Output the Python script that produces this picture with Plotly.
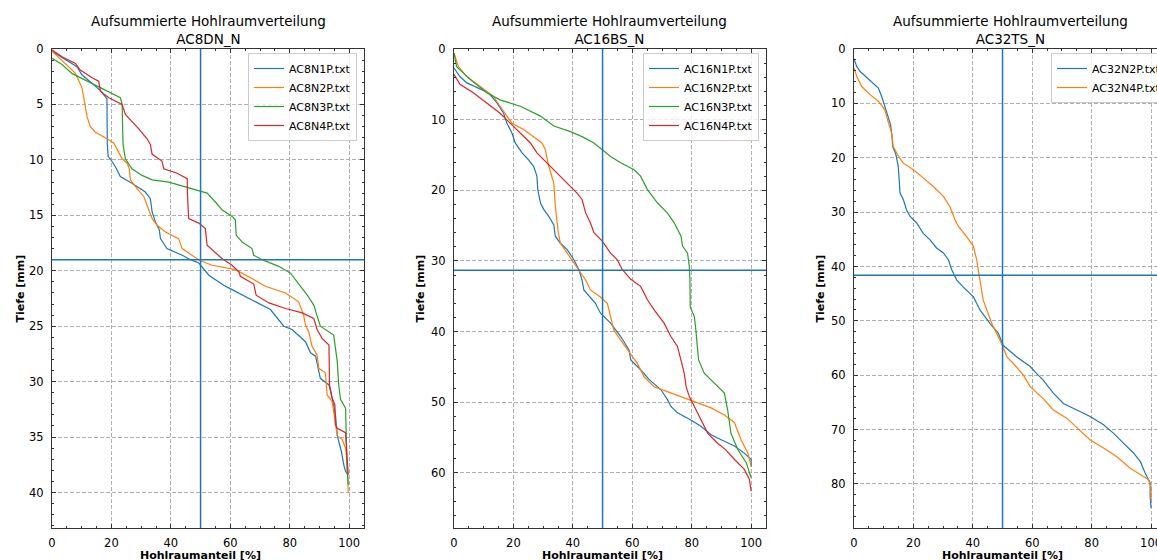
import plotly.graph_objects as go

W, H = 1157, 560
T, B = 49, 32

# ---------------- Panel 1: AC8DN_N ----------------
ac8n1p_x = [0, 4, 8.4, 10, 13, 16.5, 18.5, 18.6, 18.9, 19.6, 21.3, 23, 26.9, 31.4, 33.1, 33.7, 34.8, 36.1, 36.5, 38.7, 43.8, 46.6, 49.4, 51.1, 52.8, 55, 57.8, 60.6, 67.3, 73.5, 78, 80.8, 85.3, 87, 88.7, 89.8, 90.3, 93.2, 94.3, 95.4, 96, 96.5, 97.4, 98.2, 98.8, 99.7]
ac8n1p_y = [0.2, 0.9, 1.6, 2.3, 3.0, 3.8, 4.5, 8.5, 9.7, 9.9, 10.6, 11.5, 12.1, 12.9, 13.5, 14.7, 15.6, 16.3, 17.1, 18.0, 18.6, 19.0, 19.3, 19.8, 20.4, 20.8, 21.3, 21.7, 22.6, 23.5, 25.0, 25.3, 26.4, 27.4, 27.7, 29.1, 29.7, 30.3, 31.5, 33.0, 34.8, 35.4, 36.3, 37.5, 38.1, 38.4]

ac8n2p_x = [0, 4.5, 7.9, 10.1, 10.7, 11.2, 11.8, 12.9, 14.6, 18.5, 20.8, 22.4, 23.6, 25.3, 26, 26.4, 28.6, 30.9, 32.5, 33.7, 35.4, 38.2, 42.6, 43.8, 47.1, 49.9, 53.9, 61.7, 67.3, 71.8, 78.6, 83, 84.7, 85.3, 86.4, 87.5, 89.2, 89.8, 92, 92.6, 94.3, 94.8, 95.4, 96, 97.6, 98.8, 99.3, 99.7, 99.7]
ac8n2p_y = [0.2, 1.3, 2.2, 3.5, 4.4, 5.5, 6.1, 7.0, 7.5, 8.1, 8.5, 9.3, 9.9, 10.3, 10.8, 11.8, 12.6, 13.3, 14.4, 15.3, 15.9, 16.5, 17.1, 18.0, 18.6, 19.1, 19.5, 19.9, 20.7, 21.4, 22.0, 22.8, 24.0, 24.9, 25.5, 26.8, 27.6, 28.8, 29.2, 31.2, 31.8, 32.7, 33.6, 34.9, 35.2, 36.0, 37.2, 39.3, 40.0]

ac8n3p_x = [0, 3.4, 6.7, 11.2, 15.7, 20.2, 23, 23.6, 23.8, 23.9, 24.7, 26.9, 30.3, 33.7, 39.3, 44.3, 49.4, 52.2, 55, 57.2, 60.6, 61.7, 62, 64, 67.3, 67.9, 70.7, 76.3, 80.2, 82.5, 83.6, 85.9, 88.1, 89.2, 90.3, 94.8, 95.4, 96, 96.5, 97.1, 98.8, 99, 99.3, 99.7]
ac8n3p_y = [0.84, 1.4, 2.2, 2.8, 3.4, 4.0, 4.4, 5.0, 6.5, 8.6, 9.9, 10.8, 11.4, 11.8, 12.0, 12.4, 12.8, 13.0, 13.8, 14.5, 15.1, 15.4, 16.8, 17.4, 18.0, 18.6, 19.0, 19.6, 20.2, 21.0, 21.3, 22.2, 23.1, 24.0, 25.0, 25.8, 26.9, 28.2, 30.3, 31.6, 32.4, 34.8, 37.8, 39.3]

ac8n4p_x = [0, 3.4, 7.9, 9.5, 13.5, 15.7, 16.3, 19.1, 23.6, 24.7, 29.2, 32, 33.1, 33.7, 37, 37.6, 42.1, 45.5, 45.6, 46, 49.4, 51.6, 52.2, 55, 57.2, 60.6, 62.9, 63.4, 67.9, 68.7, 73, 78.6, 84.2, 88.1, 89.2, 90.9, 93.2, 93.4, 94.3, 95.2, 95.4, 96, 98.8, 99.3, 99.7]
ac8n4p_y = [0.09, 0.7, 1.3, 1.9, 2.6, 2.9, 3.8, 4.4, 5.0, 5.9, 7.2, 8.1, 8.6, 9.5, 10.1, 10.8, 11.2, 11.7, 13.2, 15.3, 15.7, 16.2, 17.7, 18.4, 18.9, 19.5, 20.1, 20.5, 21.2, 22.2, 22.9, 23.4, 23.8, 24.3, 25.3, 26.1, 26.7, 30.3, 31.5, 32.1, 33.9, 34.2, 34.6, 36.9, 38.4]

# ---------------- Panel 2: AC16BS_N ----------------
ac16n1p_x = [0, 2, 4.3, 8.2, 11.6, 14.4, 16.7, 17.8, 19.5, 20.6, 22.9, 25.1, 26.8, 27.9, 28.2, 29.1, 30.2, 31.9, 33.6, 34.1, 35.8, 38.1, 40.3, 42, 43.1, 43.7, 45.9, 47.6, 49.3, 52.7, 56.1, 58.9, 59.5, 62.8, 65.7, 69.6, 71.8, 73, 75.2, 79.7, 83.1, 86.5, 89.9, 94.4, 97.7, 100, 100]
ac16n1p_y = [2.7, 3.9, 4.8, 5.5, 6.2, 7.6, 9.1, 10.5, 11.9, 13.3, 14.7, 15.7, 16.6, 18.0, 19.9, 21.8, 22.7, 23.7, 24.9, 26.5, 27.5, 28.4, 29.8, 31.2, 32.7, 34.1, 35.1, 36.0, 37.4, 38.8, 40.7, 42.6, 44.0, 45.4, 46.8, 48.2, 49.6, 50.6, 51.5, 52.5, 53.4, 54.6, 55.3, 56.2, 57.2, 58.1, 59.1]

ac16n2p_x = [0, 1.5, 4.3, 8.8, 13.3, 15.5, 17.8, 19.5, 23.4, 26.8, 29.6, 30.7, 31.9, 33.6, 34.1, 35.1, 35.8, 38.1, 40.3, 42.6, 44.3, 45.9, 49.3, 51.6, 52.7, 53.8, 56.1, 59.5, 61.7, 64, 67.3, 71.8, 77.5, 82, 86.5, 91, 94.4, 96.6, 98.9, 100]
ac16n2p_y = [0.6, 2.5, 3.9, 5.3, 6.7, 8.1, 9.5, 10.5, 11.4, 12.4, 13.3, 14.2, 16.6, 19.0, 22.3, 26.0, 27.5, 28.9, 30.3, 31.7, 32.7, 34.1, 35.1, 36.0, 37.9, 39.8, 41.2, 43.1, 44.5, 46.4, 47.8, 48.5, 49.4, 50.1, 50.8, 51.8, 52.9, 55.3, 57.2, 59.1]

ac16n3p_x = [0, 0.9, 5.4, 11, 15.5, 22.3, 29.1, 33.6, 39.2, 43.1, 47.1, 49.9, 52.7, 56.1, 60.6, 62.8, 65.1, 68.5, 71.8, 74.1, 76.4, 76.9, 78.6, 79.2, 79.4, 79.5, 80.9, 81.4, 82.3, 84.2, 87.6, 91, 92.1, 93.2, 95.5, 98.4, 100]
ac16n3p_y = [0.6, 2.5, 4.3, 6.2, 7.2, 8.1, 9.5, 10.9, 11.7, 12.4, 13.3, 14.2, 15.2, 16.1, 17.1, 18.0, 19.9, 21.8, 23.2, 24.6, 26.5, 27.9, 28.9, 30.8, 32.7, 36.5, 37.9, 39.8, 44.0, 45.9, 47.3, 48.7, 51.1, 54.4, 56.7, 58.6, 60.7]

ac16n4p_x = [0, 2, 6.5, 11, 15.5, 18.9, 22.3, 25.7, 27.9, 31.3, 34.7, 38.1, 41.4, 43.1, 44.3, 45.9, 47.1, 49.9, 52.7, 54.9, 56.6, 59.5, 62.8, 65.1, 67.3, 70.7, 73, 75.2, 76.4, 77.5, 78.1, 79.2, 80.9, 83.1, 85.4, 88.7, 91.4, 94.4, 97.7, 99.4, 100]
ac16n4p_y = [3.6, 5.0, 6.2, 7.6, 9.1, 10.5, 11.9, 13.3, 14.7, 16.1, 17.5, 19.0, 20.4, 21.3, 23.2, 24.6, 26.0, 27.2, 28.9, 29.8, 31.2, 32.6, 33.6, 35.5, 36.9, 38.8, 40.7, 42.1, 44.0, 45.9, 47.8, 49.2, 50.6, 52.5, 54.4, 55.8, 56.7, 58.1, 59.5, 60.9, 62.6]

# ---------------- Panel 3: AC32TS_N ----------------
ac32n2p_x = [0, 0.9, 2, 4.3, 7, 8.2, 9.3, 10.4, 11.6, 12.3, 12.8, 13, 14.1, 14.9, 15.5, 16.6, 17.7, 18.9, 21.1, 23.3, 25.6, 27.8, 30.1, 31.8, 32.9, 34, 34.6, 36.8, 40.2, 42.4, 45.8, 48.6, 50.2, 54.7, 59.3, 61.5, 63.7, 67.1, 70.5, 75, 79.5, 84, 87.4, 90.7, 94.1, 96.4, 98, 99.7, 99.7, 100]
ac32n2p_y = [1.8, 3.2, 4.1, 5.3, 6.6, 7.2, 8.7, 10.6, 12.4, 13.9, 16.1, 17.9, 19.4, 21.6, 26.5, 27.7, 29.6, 30.8, 32.0, 33.9, 35.1, 36.6, 37.5, 38.8, 40.6, 41.8, 42.5, 43.8, 45.6, 48.0, 50.5, 52.3, 54.5, 56.6, 58.4, 59.7, 60.9, 63.3, 65.2, 66.4, 67.6, 69.1, 70.7, 72.5, 74.3, 75.9, 78.0, 79.8, 82.3, 84.4]

ac32n4p_x = [0, 0.9, 2.6, 5.4, 8.2, 10.4, 11.6, 12.7, 13.2, 14.6, 16.6, 20, 23.3, 26.7, 30.1, 32.3, 34, 35.1, 37.9, 40.2, 41.3, 41.9, 42.4, 43.5, 44.7, 46.4, 48, 50.2, 51.4, 53.6, 57, 59.3, 63.7, 67.1, 71.6, 76.1, 79.5, 84, 88.5, 93, 96.4, 99.1, 100, 100]
ac32n4p_y = [3.5, 5.0, 6.9, 8.4, 9.6, 11.2, 13.6, 15.5, 17.9, 19.4, 21.0, 22.2, 23.7, 25.3, 27.1, 29.0, 31.4, 32.6, 34.5, 36.3, 38.8, 41.2, 42.5, 46.2, 48.0, 50.5, 52.3, 54.8, 56.6, 57.8, 60.0, 62.1, 64.3, 66.4, 67.9, 70.1, 71.9, 73.4, 75.0, 77.1, 78.3, 79.2, 80.5, 82.9]

# reference lines (50 % and corresponding depth)
ref_percent = 50
ref_depths = [19.0, 31.3, 41.6]

titles = ["AC8DN_N", "AC16BS_N", "AC32TS_N"]
main_title = "Aufsummierte Hohlraumverteilung"
xlabel = "Hohlraumanteil [%]"
ylabel = "Tiefe [mm]"

panels = [
    [("AC8N1P.txt", ac8n1p_x, ac8n1p_y), ("AC8N2P.txt", ac8n2p_x, ac8n2p_y),
     ("AC8N3P.txt", ac8n3p_x, ac8n3p_y), ("AC8N4P.txt", ac8n4p_x, ac8n4p_y)],
    [("AC16N1P.txt", ac16n1p_x, ac16n1p_y), ("AC16N2P.txt", ac16n2p_x, ac16n2p_y),
     ("AC16N3P.txt", ac16n3p_x, ac16n3p_y), ("AC16N4P.txt", ac16n4p_x, ac16n4p_y)],
    [("AC32N2P.txt", ac32n2p_x, ac32n2p_y), ("AC32N4P.txt", ac32n4p_x, ac32n4p_y)],
]
colors = ["#1f77b4", "#ff7f0e", "#2ca02c", "#d62728"]

# layout geometry (window pixels; page margin is removed below)
dom_px = [(52, 364), (454, 766), (854, 1157)]
x_ranges = [[0, 105], [0, 105], [0, 102.0]]
y_ranges = [[43.2, 0], [67.8, 0], [88.1, 0]]
y_dticks = [5, 10, 10]
y_minor = [1, 2, 2]
ytitle_x = [20, 420, 820]
legend_pos = [(357, "right"), (759, "right"), (1051, "left")]
PH = H - T - B

FONT = "DejaVu Sans"
fig = go.Figure()
layout = dict(
    width=W, height=H,
    margin=dict(l=0, r=0, t=T, b=B, autoexpand=False),
    paper_bgcolor="white", plot_bgcolor="white",
    font=dict(family=FONT, size=11, color="#000000"),
    shapes=[], annotations=[],
)

for i, series in enumerate(panels):
    sfx = "" if i == 0 else str(i + 1)
    leg = "legend" if i == 0 else f"legend{i + 1}"
    for j, (name, xs, ys) in enumerate(series):
        fig.add_trace(go.Scatter(
            x=xs, y=ys, mode="lines", name=name,
            line=dict(color=colors[j], width=1.2),
            xaxis="x" + sfx, yaxis="y" + sfx, legend=leg,
        ))
    d0, d1 = dom_px[i]
    layout["xaxis" + sfx] = dict(
        domain=[d0 / W, d1 / W], anchor="y" + sfx, range=x_ranges[i],
        tick0=0, dtick=20, ticks="inside", ticklen=4, tickwidth=1, tickcolor="#333",
        minor=dict(dtick=5, ticks="inside", ticklen=2, tickcolor="#333", showgrid=False),
        showline=True, linecolor="#333", linewidth=1, mirror="allticks",
        showgrid=True, gridcolor="#b0b0b0", griddash="4px,2px", gridwidth=1,
        zeroline=False, tickfont=dict(size=11.5, family=FONT), ticklabelstandoff=4,
        ticklabeloverflow="allow",
    )
    layout["yaxis" + sfx] = dict(
        domain=[0, 1], anchor="x" + sfx, range=y_ranges[i],
        tick0=0, dtick=y_dticks[i], ticks="inside", ticklen=4, tickwidth=1, tickcolor="#333",
        minor=dict(dtick=y_minor[i], ticks="inside", ticklen=2, tickcolor="#333", showgrid=False),
        showline=True, linecolor="#333", linewidth=1, mirror="allticks" if i < 2 else False,
        showgrid=True, gridcolor="#b0b0b0", griddash="4px,2px", gridwidth=1,
        zeroline=False, tickfont=dict(size=11.5, family=FONT), ticklabelstandoff=5,
    )
    # reference lines
    layout["shapes"].append(dict(type="line", xref="x" + sfx, yref=f"y{sfx} domain",
                                 x0=ref_percent, x1=ref_percent, y0=0, y1=1,
                                 line=dict(color="#1f77b4", width=1.5)))
    layout["shapes"].append(dict(type="line", xref=f"x{sfx} domain", yref="y" + sfx,
                                 x0=0, x1=1, y0=ref_depths[i], y1=ref_depths[i],
                                 line=dict(color="#1f77b4", width=1.5)))
    # titles
    cx = (d0 + 156) / W
    layout["annotations"].append(dict(
        text=f"{main_title}<br>{titles[i]}", xref="paper", yref="paper",
        x=cx, y=1, xanchor="center", yanchor="bottom", yshift=0, showarrow=False,
        font=dict(size=13.5, family=FONT, color="#000")))
    layout["annotations"].append(dict(
        text=f"<b>{xlabel}</b>", xref="paper", yref="paper",
        x=(d0 + 148) / W, y=-(555 - (H - B)) / PH, xanchor="center", yanchor="middle",
        showarrow=False, font=dict(size=11, family=FONT, color="#000")))
    layout["annotations"].append(dict(
        text=f"<b>{ylabel}</b>", xref="paper", yref="paper", textangle=-90,
        x=ytitle_x[i] / W, y=0.5, xanchor="center", yanchor="middle",
        showarrow=False, font=dict(size=11, family=FONT, color="#000")))
    lx, anc = legend_pos[i]
    layout[leg] = dict(
        xref="container", yref="container", x=lx / W, y=1 - 53 / H,
        xanchor=anc, yanchor="top", bgcolor="rgba(255,255,255,0.8)",
        bordercolor="#cccccc", borderwidth=1, font=dict(size=11, family=FONT),
        tracegroupgap=0, itemwidth=30,
    )

fig.update_layout(**layout)
fig.write_html(
    "out.html",
    config={"displayModeBar": False},
    post_script="document.body.style.margin='0';document.body.style.overflow='hidden';",
)
